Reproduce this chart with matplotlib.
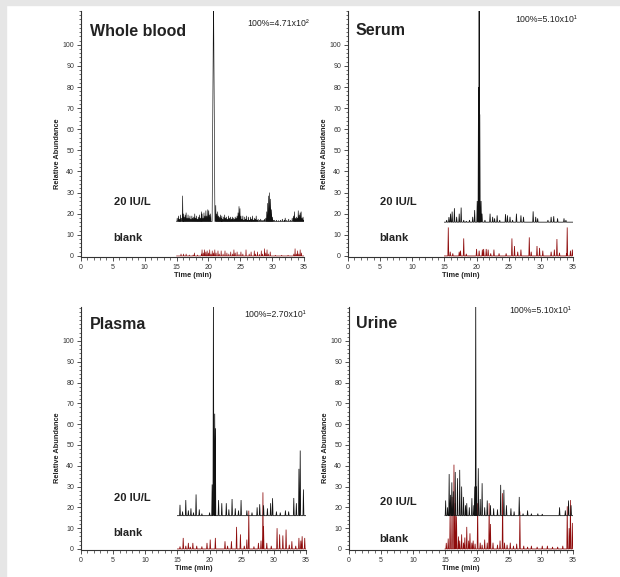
import matplotlib
matplotlib.use("Agg")
import matplotlib.pyplot as plt
from matplotlib.patches import Rectangle
from matplotlib.ticker import MultipleLocator

plt.rcParams['font.family'] = ['Liberation Sans', 'DejaVu Sans']

# ---------------- data ----------------
titles = ["Whole blood", "Serum", "Plasma", "Urine"]
scale_labels = ["100%=4.71x10\u00b2", "100%=5.10x10\u00b9", "100%=2.70x10\u00b9", "100%=5.10x10\u00b9"]
xticks = [0, 5, 10, 15, 20, 25, 30, 35]
yticks = [0, 10, 20, 30, 40, 50, 60, 70, 80, 90, 100]
sample_offset = 16
wb_offset = 16.3

# Whole blood: peak lists (apex time, apex abundance)
wb_sample_t = [15.1, 15.3, 15.45, 15.6, 15.75, 15.95, 16.05, 16.2, 16.35, 16.5, 16.65, 16.8, 16.95, 17.1,
               17.25, 17.4, 17.55, 17.7, 17.85, 18.0, 18.15, 18.3, 18.45, 18.6, 18.75, 18.9, 19.0, 19.15,
               19.3, 19.45, 19.6, 19.75, 19.9, 20.05, 20.2, 20.35, 20.8, 21.15,
               21.3, 21.45, 21.6, 21.75, 21.9, 22.05, 22.1, 22.25, 22.4, 22.55, 22.7, 22.85, 23.0, 23.15,
               23.3, 23.45, 23.6, 23.75, 23.9, 24.05, 24.2, 24.35, 24.5, 24.65, 24.8, 24.95, 25.1, 25.25,
               25.4, 25.55, 25.7, 25.85, 26.0, 26.15, 26.3, 26.45, 26.6, 26.75, 26.9, 27.05, 27.2, 27.35,
               27.5, 27.65, 27.8, 28.0, 28.2, 28.4, 28.6, 28.8, 29.0, 29.15, 29.3, 29.45, 29.6, 29.75,
               29.9, 30.05, 30.2, 30.4, 30.7, 31.0, 31.3, 31.6, 31.9, 32.05, 32.3, 32.6, 32.9, 33.15,
               33.35, 33.5, 33.65, 33.8, 33.95, 34.1, 34.25, 34.4, 34.55, 34.7, 34.85, 35.0]
wb_sample_y = [18.0, 19.0, 17.5, 19.5, 18.0, 28.5, 20.0, 18.5, 19.5, 20.5, 18.0, 19.5, 18.0, 19.0,
               17.5, 19.0, 18.0, 18.5, 20.0, 18.0, 19.0, 17.5, 18.5, 19.5, 18.0, 21.0, 20.0, 18.0,
               20.5, 19.0, 21.5, 19.0, 22.0, 21.5, 19.5, 20.0, 125.0, 24.0,
               20.0, 21.0, 19.0, 18.5, 19.5, 18.0, 19.0, 17.5, 18.5, 19.5, 18.0, 18.5, 17.5, 19.0,
               18.0, 18.5, 17.5, 18.5, 18.0, 17.5, 18.5, 18.0, 19.0, 20.5, 23.5, 22.5, 19.0, 17.5,
               19.0, 17.0, 18.5, 17.5, 19.0, 17.0, 18.5, 17.0, 18.5, 17.5, 19.0, 17.0, 18.0, 17.5,
               19.0, 17.0, 17.5, 17.0, 17.5, 17.0, 17.0, 17.5, 18.0, 21.0, 25.0, 28.5, 30.0, 27.0,
               22.0, 18.5, 17.0, 17.0, 17.0, 16.8, 17.0, 17.5, 17.0, 18.0, 17.0, 17.5, 17.0, 18.0,
               19.0, 21.0, 18.0, 18.5, 18.0, 21.5, 19.5, 20.5, 21.0, 18.0, 18.5, 17.0]
wb_blank_t = [15.7, 16.1, 16.5, 17.0, 17.6, 17.8, 18.3, 18.9, 19.0, 19.2, 19.4, 19.6, 19.8, 20.0,
              20.2, 20.4, 20.6, 20.8, 21.0, 21.2, 21.5, 21.7, 22.0, 22.3, 22.6, 22.9, 23.2, 23.5,
              23.8, 24.0, 24.2, 24.5, 24.8, 25.1, 25.4, 25.9, 26.4, 26.7, 27.2, 27.4, 27.7, 28.0,
              28.3, 28.5, 28.8, 29.0, 29.2, 29.4, 29.7, 30.5, 31.5, 32.5, 33.4, 33.6, 33.8, 34.0,
              34.2, 34.4, 34.6]
wb_blank_y = [1.0, 1.0, 1.0, 0.5, 0.5, 1.5, 0.5, 1.0, 3.0, 1.5, 3.0, 2.0, 2.5, 1.5,
              3.0, 1.0, 2.5, 1.5, 3.0, 1.5, 2.5, 1.0, 2.5, 1.0, 2.5, 1.5, 1.0, 2.0,
              1.0, 3.0, 1.5, 2.0, 0.8, 2.0, 1.0, 3.0, 1.0, 2.0, 2.5, 1.0, 2.0, 0.8,
              2.5, 1.0, 3.5, 1.5, 3.0, 1.0, 2.0, 0.4, 0.4, 0.4, 1.0, 3.5, 1.0, 2.5,
              1.0, 3.0, 1.5]

# Serum
se_sample_t = [15.35, 15.7, 15.95, 16.2, 16.55, 16.9, 17.3, 17.6, 18.0, 18.4, 18.9, 19.4, 19.7, 20.1,
               20.3, 20.4, 20.5, 20.7, 20.85, 21.3, 22.1, 22.5, 22.8, 23.2, 23.6, 24.5, 24.8, 25.2,
               25.6, 26.2, 26.9, 27.3, 28.8, 29.2, 29.5, 31.1, 31.6, 32.0, 32.6, 33.6, 33.9]
se_sample_y = [17.0, 18.4, 20.0, 21.0, 22.6, 18.5, 20.0, 22.9, 17.0, 16.5, 17.0, 18.5, 21.7, 26.0,
               80.0, 125.0, 67.0, 26.0, 20.0, 17.0, 20.0, 18.5, 17.8, 19.2, 17.0, 19.8, 19.2, 18.5,
               17.0, 20.0, 19.2, 18.5, 21.1, 18.5, 17.8, 17.0, 18.5, 18.8, 17.8, 17.8, 17.0]
se_blank_t = [15.6, 15.9, 16.3, 17.3, 17.5, 18.0, 18.4, 20.0, 20.4, 20.9, 21.1, 21.5, 21.8, 22.2, 22.7,
              23.5, 24.6, 25.5, 25.9, 26.4, 26.9, 28.2, 28.5, 29.4, 29.8, 30.3, 31.6, 32.1, 32.5, 32.9,
              34.0, 34.1, 34.6, 34.9]
se_blank_y = [13.5, 2.0, 1.2, 2.0, 2.5, 8.3, 1.0, 3.3, 2.5, 3.0, 3.3, 3.3, 3.0, 1.2, 3.0,
              1.2, 1.2, 8.3, 4.7, 2.0, 3.0, 8.8, 2.0, 4.7, 3.8, 2.5, 2.0, 3.0, 8.0, 1.5,
              1.2, 13.5, 2.5, 3.0]

# Plasma
pl_sample_t = [15.4, 15.8, 16.3, 16.7, 17.1, 17.5, 17.9, 18.4, 18.8, 20.0, 20.4, 20.6, 20.8, 20.9,
               21.4, 21.9, 22.6, 23.0, 23.5, 24.0, 24.5, 24.9, 25.8, 26.6, 27.4, 27.8, 28.4, 29.0,
               29.5, 29.8, 30.4, 31.0, 31.8, 32.3, 33.1, 33.5, 33.9, 34.1, 34.6]
pl_sample_y = [21.2, 18.0, 23.5, 18.5, 19.5, 17.5, 26.2, 19.0, 17.0, 17.5, 31.0, 125.0, 65.0, 58.0,
               23.5, 22.0, 22.0, 19.0, 24.0, 19.5, 18.5, 23.5, 18.5, 17.5, 20.0, 21.5, 21.0, 19.5,
               22.0, 24.4, 18.0, 17.5, 18.5, 18.0, 24.5, 22.0, 38.5, 47.3, 28.6]
pl_blank_t = [15.4, 15.9, 16.3, 16.7, 17.0, 17.4, 18.0, 18.8, 19.6, 20.1, 20.9, 22.4, 22.8, 23.4, 24.2,
              24.8, 25.4, 25.8, 26.1, 26.9, 27.6, 28.0, 28.3, 28.4, 28.9, 29.6, 30.5, 30.9, 31.4, 31.9,
              32.4, 32.8, 33.4, 33.9, 34.2, 34.4, 34.8]
pl_blank_y = [1.2, 5.3, 1.5, 2.9, 1.0, 2.9, 1.5, 1.2, 2.9, 4.5, 5.3, 3.7, 1.5, 3.7, 10.6,
              7.0, 1.5, 4.5, 18.4, 1.2, 2.9, 4.0, 27.2, 10.8, 2.9, 1.5, 10.0, 7.0, 6.5, 9.3,
              2.0, 3.7, 1.5, 5.3, 4.0, 6.1, 5.3]

# Urine
ur_sample_t = [15.1, 15.4, 15.65, 15.85, 16.07, 16.3, 16.6, 16.95, 17.3, 17.6, 17.9, 18.2, 18.4, 18.8,
               19.2, 19.5, 19.65, 19.8, 19.9, 20.2, 20.5, 20.8, 21.2, 21.6, 22.1, 22.6, 23.2, 23.7,
               24.2, 24.6, 25.3, 25.8, 26.6, 27.2, 27.9, 28.5, 29.5, 30.2, 32.9, 33.8, 34.3, 34.7, 35.1]
ur_sample_y = [23.3, 20.0, 36.0, 26.0, 32.0, 27.7, 37.0, 34.0, 38.0, 30.0, 25.0, 21.0, 22.0, 20.0,
               24.4, 21.0, 30.0, 125.0, 30.0, 38.8, 24.0, 31.6, 20.0, 23.3, 21.0, 19.5, 19.0, 30.8,
               28.4, 21.0, 19.5, 18.0, 25.0, 17.0, 18.5, 17.0, 17.0, 16.8, 20.0, 18.5, 23.3, 21.0, 17.0]
ur_blank_t = [15.2, 15.5, 15.8, 16.1, 16.4, 16.6, 16.8, 17.1, 17.3, 17.6, 17.9, 18.1, 18.4, 18.7, 18.9,
              19.2, 19.4, 19.7, 20.1, 20.5, 20.8, 21.2, 21.6, 21.9, 22.1, 22.5, 23.2, 23.6, 24.0, 24.3,
              24.7, 25.2, 25.7, 26.2, 26.7, 27.3, 27.9, 28.5, 29.4, 30.2, 31.0, 31.8, 32.6, 33.4, 34.1,
              34.4, 34.6, 34.9]
ur_blank_y = [2.9, 5.0, 18.9, 25.0, 40.5, 22.0, 15.7, 6.0, 4.0, 7.0, 3.0, 5.5, 10.6, 4.0, 7.5,
              3.0, 4.0, 2.5, 22.0, 3.0, 2.0, 4.5, 3.0, 22.0, 12.0, 3.0, 2.0, 4.0, 26.8, 3.0,
              2.0, 3.0, 1.5, 2.5, 18.0, 1.5, 1.0, 1.5, 1.0, 1.5, 1.5, 1.0, 1.0, 1.5, 20.5,
              10.0, 23.5, 12.5]

# ---------------- helpers ----------------
def spikes(times, heights, base, start=15.0, end=35.0, hw=0.07, wide_over=200.0, wide_hw=0.2):
    xs, ys = [start], [base]
    for t, h in zip(times, heights):
        w = wide_hw if h > wide_over else hw
        xs += [t - w, t, t + w]
        ys += [base, h, base]
    xs.append(end)
    ys.append(base)
    return xs, ys

traces = [
    (spikes(wb_sample_t, wb_sample_y, wb_offset, end=35.1, hw=0.05, wide_over=100.0, wide_hw=0.22),
     spikes(wb_blank_t, wb_blank_y, 0, hw=0.05)),
    (spikes(se_sample_t, se_sample_y, sample_offset), spikes(se_blank_t, se_blank_y, 0)),
    (spikes(pl_sample_t, pl_sample_y, sample_offset), spikes(pl_blank_t, pl_blank_y, 0)),
    (spikes(ur_sample_t, ur_sample_y, sample_offset, end=35.2), spikes(ur_blank_t, ur_blank_y, 0, end=35.2)),
]
line_w = [0.45, 0.55, 0.55, 0.55]

# ---------------- layout ----------------
W, H = 620, 577
fig = plt.figure(figsize=(W / 100, H / 100), dpi=100)
fig.patch.set_facecolor("white")
gray = "#e6e6e6"
fig.patches.append(Rectangle((0, 1 - 5 / H), 1, 5 / H, transform=fig.transFigure, color=gray, zorder=0))
fig.patches.append(Rectangle((0, 0), 6 / W, 1, transform=fig.transFigure, color=gray, zorder=0))

# pixel boxes: left, right, bottom(y of value -0.5), top
boxes = [(81, 304, 257, 11), (348, 573, 257, 11), (81, 306, 550, 307), (349, 573, 550, 307)]
ytops = [116.0, 116.0, 116.3, 116.3]

title_pos = [(1.4, 104.2), (1.1, 104.6), (1.4, 105.8), (1.1, 106.0)]
scale_pos = [(35.8, 109.0), (35.7, 111.0), (35.0, 111.7), (34.7, 113.3)]
samp_pos = [(5.2, 24.0), (5.0, 24.0), (5.1, 23.2), (4.85, 21.2)]
blank_pos = [(5.1, 7.2), (4.8, 7.2), (5.1, 6.4), (4.7, 3.5)]

black = "#111111"
red = "#8e0b0b"
axc = "#333333"

for i in range(4):
    l, r, b, t = boxes[i]
    ax = fig.add_axes([l / W, (H - b) / H, (r - l) / W, (b - t) / H])
    ax.set_xlim(0, 35)
    ax.set_ylim(-0.5, ytops[i])
    (sx, sy), (bx, by) = traces[i]
    ax.plot(bx, by, color=red, lw=line_w[i], solid_joinstyle="miter")
    ax.plot(sx, sy, color=black, lw=line_w[i], solid_joinstyle="miter")

    for s in ["top", "right"]:
        ax.spines[s].set_visible(False)
    for s in ["left", "bottom"]:
        ax.spines[s].set_color(axc)
        ax.spines[s].set_linewidth(0.8)
    ax.set_xticks(xticks)
    ax.set_yticks(yticks)
    ax.xaxis.set_minor_locator(MultipleLocator(1))
    ax.yaxis.set_minor_locator(MultipleLocator(2))
    ax.tick_params(which="major", length=3, width=0.6, color=axc, labelsize=5, labelcolor="#333333", pad=2)
    ax.tick_params(which="minor", length=1.8, width=0.5, color=axc)

    ax.set_ylabel("Relative Abundance", fontsize=5.3, fontweight="bold", color="#222222")
    ax.yaxis.set_label_coords(-0.09, 0.42)
    ax.set_xlabel("Time (min)", fontsize=5.3, fontweight="bold", color="#222222")
    ax.xaxis.set_label_coords(0.5, -0.062)

    ax.text(*title_pos[i], titles[i], fontsize=11.5, fontweight="bold", color="#222222", va="baseline", ha="left")
    ax.text(*scale_pos[i], scale_labels[i], fontsize=6.3, color="#222222", va="baseline", ha="right")
    ax.text(*samp_pos[i], "20 IU/L", fontsize=8, fontweight="bold", color="#222222", va="baseline", ha="left")
    ax.text(*blank_pos[i], "blank", fontsize=8, fontweight="bold", color="#222222", va="baseline", ha="left")

fig.savefig("out.png", dpi=100, facecolor=fig.get_facecolor())
